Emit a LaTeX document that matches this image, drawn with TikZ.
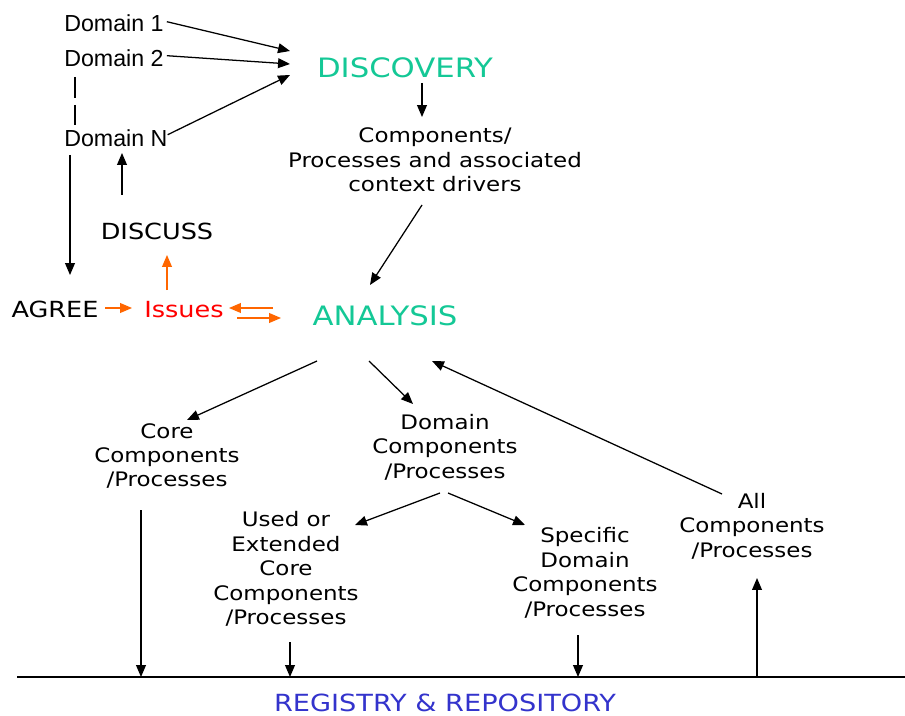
\documentclass[tikz,border=0pt]{standalone}
\usepackage{fontspec}
\setmainfont{DejaVu Sans}[FakeStretch=1.15]
\newfontfamily\arialfont{Liberation Sans}
\usetikzlibrary{arrows.meta}

\definecolor{phaseteal}{RGB}{20,200,150}
\definecolor{issueorange}{RGB}{255,102,0}
\definecolor{regblue}{RGB}{51,51,204}

\tikzset{
    dom/.style={font=\arialfont\fontsize{16.5}{20}\selectfont, anchor=base west, inner sep=0pt},
    phase/.style={font=\fontsize{19}{22}\selectfont, text=phaseteal, anchor=base, inner sep=0pt},
    word/.style={font=\fontsize{15.8}{18}\selectfont, anchor=base, inner sep=0pt},
    blk/.style={font=\fontsize{14.2}{17.4}\selectfont, align=center, inner sep=0pt},
    arr/.style={-{Triangle[length=8.5pt,width=7pt]}, line width=0.9pt},
    oarr/.style={arr, issueorange}
}

\begin{document}
\begin{tikzpicture}[x=0.025cm, y=-0.025cm]
    \useasboundingbox (0,0) rectangle (905,715);

    \node [dom] (d1) at (64,32) {Domain 1};
    \node [dom] (d2) at (64,67) {Domain 2};
    \node [dom] (dn) at (64,147) {Domain N};
    \draw[line width=1.2pt] (75,77) -- (75,98) (75,105) -- (75,125);

    \node [phase] (disc) at (405,78) {DISCOVERY};
    \node [blk] (comp) at (435,160) {Components/\\Processes and associated\\context drivers};
    \node [phase] (ana) at (385,325) {ANALYSIS};

    \node [word] (discuss) at (157,239) {DISCUSS};
    \node [word] (agree) at (55,317) {AGREE};
    \node [word, text=red] (iss) at (184,317) {Issues};

    \node [blk] (core) at (167,456) {Core\\Components\\/Processes};
    \node [blk] (domc) at (445,447) {Domain\\Components\\/Processes};
    \node [blk] (used) at (286,569) {Used or\\Extended\\Core\\Components\\/Processes};
    \node [blk] (spec) at (585,573) {Specific\\Domain\\Components\\/Processes};
    \node [blk] (all) at (752,526) {All\\Components\\/Processes};

    \node [font=\fontsize{16.8}{20}\selectfont, text=regblue, anchor=base, inner sep=0pt] (reg) at (445,711) {REGISTRY \& REPOSITORY};

    % free ends
    \coordinate (t1) at (290,51);
    \coordinate (t2) at (290,64);
    \coordinate (t3) at (290,75);
    \coordinate (lw) at (17,677);
    \coordinate (le) at (905,677);

    \draw[arr] (d1.east) ++(3,-2) -- (t1);
    \draw[arr] (d2.east) ++(3,-3) -- (t2);
    \draw[arr] (dn.east) ++(0,-4) -- (t3);

    \draw[arr] (422,83) -- (422,117);
    \draw[arr] (422,205) -- (370,285);
    \draw[arr] (70,155) -- (70,275);
    \draw[arr] (122,195) -- (122,153);

    \draw[oarr] (105,308) -- (132,308);
    \draw[oarr] (167,290) -- (167,255);
    \draw[oarr] (273,308) -- (229,308);
    \draw[oarr] (237,318) -- (281,318);

    \draw[arr] (317,361) -- (187,420);
    \draw[arr] (369,361) -- (413,404);
    \draw[arr] (440,493) -- (355,525);
    \draw[arr] (448,493) -- (525,525);
    \draw[arr] (722,494) -- (432,361);

    \draw[line width=1.4pt] (lw) -- (le);
    \draw[arr] (141,510) -- (141,0 |- lw);
    \draw[arr] (290,642) -- (290,0 |- lw);
    \draw[arr] (578,635) -- (578,0 |- lw);
    \draw[arr] (757,0 |- lw) -- (757,578);
\end{tikzpicture}
\end{document}
